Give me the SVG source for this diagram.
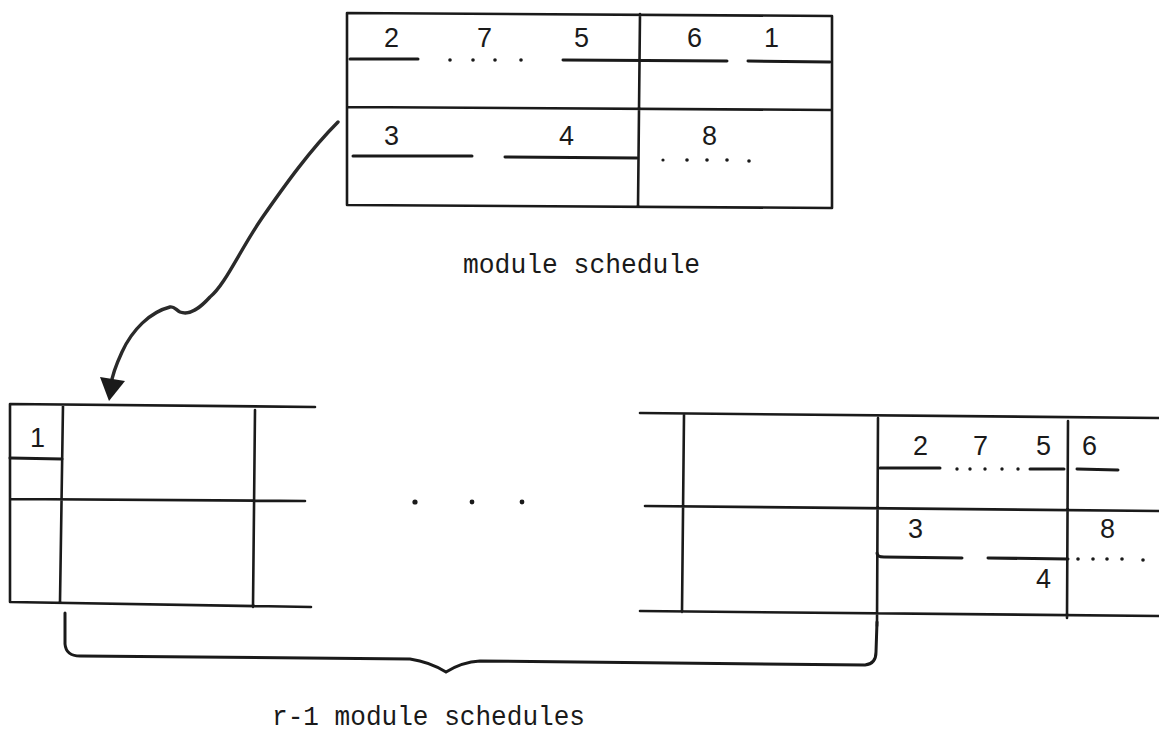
<svg xmlns="http://www.w3.org/2000/svg" width="1159" height="738" viewBox="0 0 1159 738">
<style>
.b{stroke:#1a1a1a;stroke-width:2.6;fill:none;stroke-linecap:round}
.u{stroke:#1a1a1a;stroke-width:3;fill:none;stroke-linecap:round}
.a{stroke:#2a2a2a;stroke-width:3.4;fill:none;stroke-linecap:round}
.d{fill:#1a1a1a}
.n{font-family:"Liberation Sans",Arial,sans-serif;font-size:27px;fill:#1a1a1a}
.l{font-family:"Liberation Mono","DejaVu Sans Mono",monospace;font-size:28px;fill:#1a1a1a}
</style>
<rect width="1159" height="738" fill="#fff"/>

<g id="top-schedule">
<path class="b" d="M347,13 L832,16 M347,13 L347,205 M347,205 L832,208 M832,16 L832,208 M640,14 L638,207 M347,107 L832,110"/>
<path class="u" d="M350,59 L418,59 M563,60 L727,61 M748,61 L830,62 M353,156 L472,156 M505,157 L637,158"/>
<g class="d">
<circle cx="450" cy="60" r="1.8"/><circle cx="473" cy="60" r="1.8"/><circle cx="495" cy="60" r="1.8"/><circle cx="521" cy="60" r="1.8"/>
<circle cx="663" cy="160" r="1.6"/><circle cx="687" cy="160" r="1.8"/><circle cx="707" cy="160" r="1.8"/><circle cx="727" cy="160" r="1.8"/><circle cx="749" cy="161" r="1.8"/>
</g>
<text class="n" x="384" y="47">2</text>
<text class="n" x="477" y="47">7</text>
<text class="n" x="574" y="47">5</text>
<text class="n" x="687" y="47">6</text>
<text class="n" x="764" y="47">1</text>
<text class="n" x="384" y="145">3</text>
<text class="n" x="559" y="145">4</text>
<text class="n" x="702" y="145">8</text>
</g>

<g id="left-schedule">
<path class="b" d="M10,404 L315,407 M10,404 L10,602 M10,602 L311,607 M10,499 L305,501 M63,405 L60,602 M255,410 L253,607"/>
<path class="u" d="M10,458 L62,459"/>
<text class="n" x="30" y="447">1</text>
</g>

<g id="ellipsis" class="d">
<circle cx="415" cy="502" r="2.6"/>
<circle cx="472" cy="502" r="2.4"/>
<circle cx="522" cy="502" r="2.4"/>
</g>

<g id="right-schedule">
<path class="b" d="M640,413 L1159,418 M645,506 L1159,511 M640,611 L1159,616 M684,415 L682,612 M878,418 L877,626 M1068,421 L1067,618"/>
<path class="u" d="M880,468 L940,468 M1030,469 L1064,469 M1077,469 L1118,470 M877,553 Q877,557 884,557 L962,558 M988,558 L1068,559"/>
<g class="d">
<circle cx="957" cy="469" r="1.7"/><circle cx="970" cy="469" r="1.7"/><circle cx="985" cy="469" r="1.7"/><circle cx="1002" cy="469" r="1.7"/><circle cx="1018" cy="469" r="1.7"/>
<circle cx="1078" cy="559" r="1.8"/><circle cx="1093" cy="559" r="1.8"/><circle cx="1107" cy="559" r="1.8"/><circle cx="1122" cy="559" r="1.8"/><circle cx="1143" cy="560" r="1.8"/>
</g>
<text class="n" x="913" y="455">2</text>
<text class="n" x="973" y="455">7</text>
<text class="n" x="1036" y="455">5</text>
<text class="n" x="1082" y="455">6</text>
<text class="n" x="908" y="538">3</text>
<text class="n" x="1100" y="538">8</text>
<text class="n" x="1036" y="588">4</text>
</g>

<g id="brace">
<path class="u" d="M65,613 L65,644 Q66,656 80,656 L410,659 Q430,662 446,672 Q462,662 480,661 L865,665 Q876,664 876,652 L877,622"/>
</g>

<g id="connectors">
<path class="a" d="M338,122 C310,150 285,185 262,218 C240,250 225,285 210,297 C200,308 190,316 180,312 C176,310 174,306 170,307 C150,312 132,330 122,352 C116,365 112,375 111,385"/>
<path d="M100,377 L125,381 L109,401 Z" fill="#1a1a1a"/>
</g>

<g id="labels">
<text class="l" x="463" y="273" textLength="237" lengthAdjust="spacingAndGlyphs">module schedule</text>
<text class="l" x="272" y="725" textLength="313" lengthAdjust="spacingAndGlyphs">r-1 module schedules</text>
</g>
</svg>
